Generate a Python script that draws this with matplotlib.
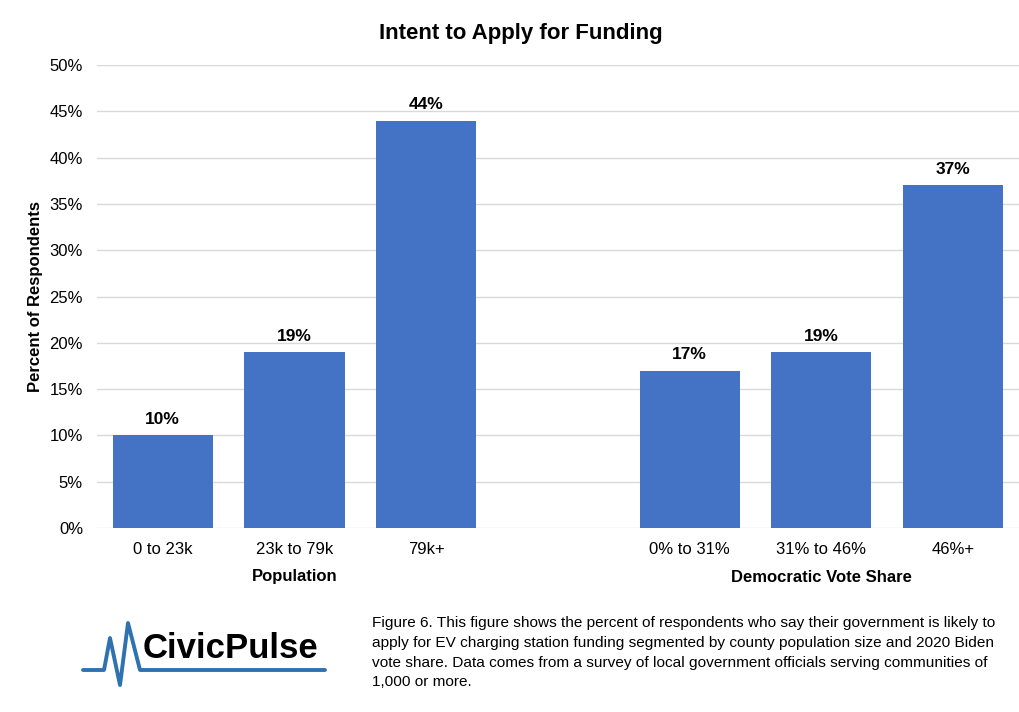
import matplotlib.pyplot as plt
from matplotlib.ticker import PercentFormatter

plt.rcParams['font.family'] = ['Liberation Sans', 'DejaVu Sans']

# survey results, two groupings side by side
pop_labels = ['0 to 23k', '23k to 79k', '79k+']
pop_values = [10, 19, 44]
vote_labels = ['0% to 31%', '31% to 46%', '46%+']
vote_values = [17, 19, 37]
y_ticks = [0, 5, 10, 15, 20, 25, 30, 35, 40, 45, 50]

bar_color = '#4472C4'
grid_color = '#D9D9D9'
logo_blue = '#2E72B0'

fig = plt.figure(figsize=(10.2, 7.12), dpi=100)
ax = fig.add_axes([0.095, 0.2584, 0.904, 0.6503])

# leave an empty slot between the two groups
pop_x = [0, 1, 2]
vote_x = [4, 5, 6]
ax.bar(pop_x, pop_values, width=0.76, color=bar_color, zorder=2)
ax.bar(vote_x, vote_values, width=0.76, color=bar_color, zorder=2)

for x, v in zip(pop_x + vote_x, pop_values + vote_values):
    ax.annotate(f'{v}%', (x, v), xytext=(0, 6), textcoords='offset points',
                ha='center', va='bottom', fontsize=12.5, fontweight='bold')

ax.set_xlim(-0.5, 6.5)
ax.set_ylim(0, 50)
ax.set_yticks(y_ticks)
ax.yaxis.set_major_formatter(PercentFormatter(decimals=0))
ax.set_xticks(pop_x + vote_x)
ax.set_xticklabels(pop_labels + vote_labels)
ax.tick_params(axis='both', length=0, labelsize=12)
ax.tick_params(axis='x', pad=10)
ax.tick_params(axis='y', pad=10)
ax.grid(axis='y', color=grid_color, linewidth=1, zorder=0)
for s in ax.spines.values():
    s.set_visible(False)

fig.text(36 / 1020, 1 - 296 / 712, 'Percent of Respondents', rotation=90,
         ha='center', va='center', fontsize=12, fontweight='bold')
fig.text(521 / 1020, 1 - 33 / 712, 'Intent to Apply for Funding', ha='center',
         va='center', fontsize=16, fontweight='bold')

# group captions under the tick labels
fig.text(295 / 1020, 1 - 577 / 712, 'Population', ha='center', va='center',
         fontsize=12, fontweight='bold')
fig.text(821 / 1020, 1 - 577 / 712, 'Democratic Vote Share', ha='center', va='center',
         fontsize=12, fontweight='bold')

# logo: pulse line with the wordmark
lx = [83, 104, 110, 120, 128, 140, 325]
ly = [670, 670, 638, 685, 623, 670, 670]
fig.add_artist(plt.Line2D([x / 1020 for x in lx], [1 - y / 712 for y in ly],
                          color=logo_blue, linewidth=2.8, solid_joinstyle='round',
                          solid_capstyle='round'))
fig.text(143 / 1020, 1 - 649 / 712, 'CivicPulse', ha='left', va='center',
         fontsize=25, fontweight='bold', color='black')

caption = ('Figure 6. This figure shows the percent of respondents who say their government is likely to\n'
           'apply for EV charging station funding segmented by county population size and 2020 Biden\n'
           'vote share. Data comes from a survey of local government officials serving communities of\n'
           '1,000 or more.')
fig.text(372 / 1020, 1 - 616 / 712, caption, ha='left', va='top', fontsize=11.1,
         linespacing=1.53)

fig.savefig('out.png', dpi=100)
